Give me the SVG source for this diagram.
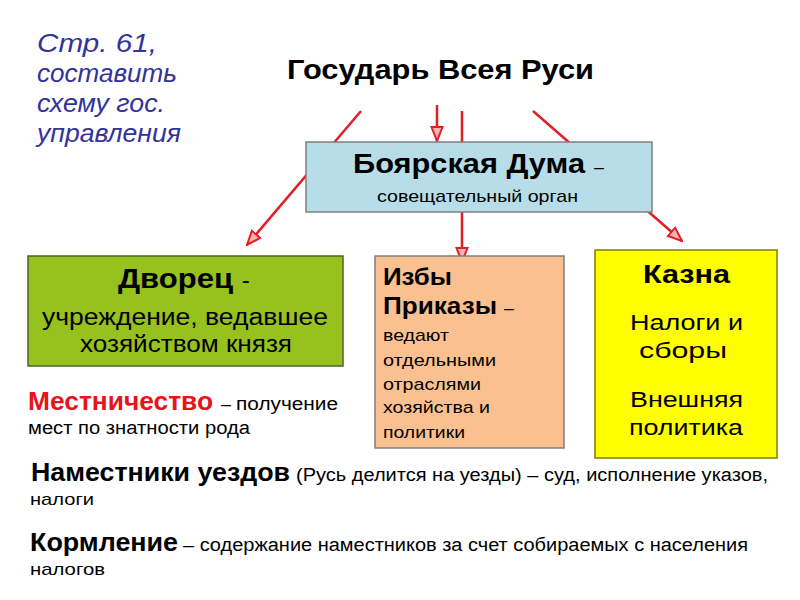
<svg xmlns="http://www.w3.org/2000/svg" width="800" height="600" viewBox="0 0 800 600">
<defs>
<style>
text{font-family:"Liberation Sans",Arial,sans-serif;fill:#000}
.b{font-weight:bold}
.note{font-style:italic;fill:#333399;font-size:25px}
.conn line{stroke:#e31e24;stroke-width:2.5;fill:none}
.box{stroke-width:1.5}
</style>
<marker id="ah" markerUnits="userSpaceOnUse" viewBox="0 0 16 14" markerWidth="16" markerHeight="14" refX="15" refY="7" orient="auto">
<path d="M1,1.5 L15,7 L1,12.5 Z" fill="#f6b3b3" stroke="#e31e24" stroke-width="2"/>
</marker>
</defs>
<rect width="800" height="600" fill="#fff"/>

<g id="note">
<text class="note" x="37" y="52" textLength="120" lengthAdjust="spacingAndGlyphs">Стр. 61,</text>
<text class="note" x="37" y="82" textLength="140" lengthAdjust="spacingAndGlyphs">составить</text>
<text class="note" x="37" y="112" textLength="128" lengthAdjust="spacingAndGlyphs">схему гос.</text>
<text class="note" x="37" y="142" textLength="144" lengthAdjust="spacingAndGlyphs">управления</text>
</g>

<g id="title">
<text class="b" x="287" y="79" font-size="28" textLength="307" lengthAdjust="spacingAndGlyphs">Государь Всея Руси</text>
</g>

<g class="conn" id="connectors">
<line x1="361" y1="111" x2="247" y2="245" marker-end="url(#ah)"/>
<line x1="437" y1="105" x2="437" y2="141" marker-end="url(#ah)"/>
<line x1="462" y1="111" x2="462" y2="262" marker-end="url(#ah)"/>
<line x1="533" y1="111" x2="682" y2="241" marker-end="url(#ah)"/>
</g>

<g id="duma">
<rect class="box" x="306" y="142" width="346" height="70" fill="#b7dde8" stroke="#7f7f7f"/>
<text x="353" y="173"><tspan class="b" font-size="28" textLength="232" lengthAdjust="spacingAndGlyphs">Боярская Дума</tspan><tspan font-size="18" dx="4"> –</tspan></text>
<text x="377" y="202" font-size="17" textLength="201" lengthAdjust="spacingAndGlyphs">совещательный орган</text>
</g>

<g id="dvorets">
<rect class="box" x="28" y="256" width="315" height="110" fill="#96c11e" stroke="#4f6228"/>
<text x="118" y="288"><tspan class="b" font-size="28" textLength="115" lengthAdjust="spacingAndGlyphs">Дворец</tspan><tspan font-size="24" dx="2"> -</tspan></text>
<text x="42" y="325" font-size="23" textLength="286" lengthAdjust="spacingAndGlyphs">учреждение, ведавшее</text>
<text x="80" y="352" font-size="23" textLength="212" lengthAdjust="spacingAndGlyphs">хозяйством князя</text>
</g>

<g id="izby">
<rect class="box" x="375" y="256" width="189" height="192" fill="#fac090" stroke="#7f7f7f"/>
<text class="b" x="383" y="285" font-size="24" textLength="69" lengthAdjust="spacingAndGlyphs">Избы</text>
<text x="383" y="314"><tspan class="b" font-size="24" textLength="114" lengthAdjust="spacingAndGlyphs">Приказы</tspan><tspan font-size="18" dx="2"> –</tspan></text>
<text x="383" y="341" font-size="17" textLength="66" lengthAdjust="spacingAndGlyphs">ведают</text>
<text x="383" y="366" font-size="17" textLength="113" lengthAdjust="spacingAndGlyphs">отдельными</text>
<text x="383" y="390" font-size="17" textLength="98" lengthAdjust="spacingAndGlyphs">отраслями</text>
<text x="383" y="413" font-size="17" textLength="107" lengthAdjust="spacingAndGlyphs">хозяйства и</text>
<text x="383" y="438" font-size="17" textLength="82" lengthAdjust="spacingAndGlyphs">политики</text>
</g>

<g id="kazna">
<rect class="box" x="595" y="250" width="182" height="208" fill="#ffff00" stroke="#7f7f00"/>
<text class="b" x="643" y="283" font-size="26" textLength="87" lengthAdjust="spacingAndGlyphs">Казна</text>
<text x="630" y="330" font-size="22" textLength="113" lengthAdjust="spacingAndGlyphs">Налоги и</text>
<text x="639" y="358" font-size="22" textLength="88" lengthAdjust="spacingAndGlyphs">сборы</text>
<text x="630" y="407" font-size="22" textLength="113" lengthAdjust="spacingAndGlyphs">Внешняя</text>
<text x="629" y="435" font-size="22" textLength="114" lengthAdjust="spacingAndGlyphs">политика</text>
</g>

<g id="mestnichestvo">
<text x="28" y="410"><tspan class="b" font-size="25" fill="#e8141b" style="fill:#e8141b" textLength="185" lengthAdjust="spacingAndGlyphs">Местничество</tspan><tspan font-size="18" dx="3"> – </tspan><tspan font-size="18" textLength="102" lengthAdjust="spacingAndGlyphs">получение</tspan></text>
<text x="28" y="434" font-size="18" textLength="222" lengthAdjust="spacingAndGlyphs">мест по знатности рода</text>
</g>

<g id="namestniki">
<text x="31" y="481"><tspan class="b" font-size="25" textLength="259" lengthAdjust="spacingAndGlyphs">Наместники уездов</tspan><tspan font-size="18" dx="6" textLength="472" lengthAdjust="spacingAndGlyphs">(Русь делится на уезды) – суд, исполнение указов,</tspan></text>
<text x="30" y="505" font-size="17" textLength="64" lengthAdjust="spacingAndGlyphs">налоги</text>
</g>

<g id="kormlenie">
<text x="30" y="551"><tspan class="b" font-size="25" textLength="148" lengthAdjust="spacingAndGlyphs">Кормление</tspan><tspan font-size="18" dx="5" textLength="565" lengthAdjust="spacingAndGlyphs">– содержание наместников за счет собираемых с населения</tspan></text>
<text x="30" y="575" font-size="17" textLength="75" lengthAdjust="spacingAndGlyphs">налогов</text>
</g>
</svg>
